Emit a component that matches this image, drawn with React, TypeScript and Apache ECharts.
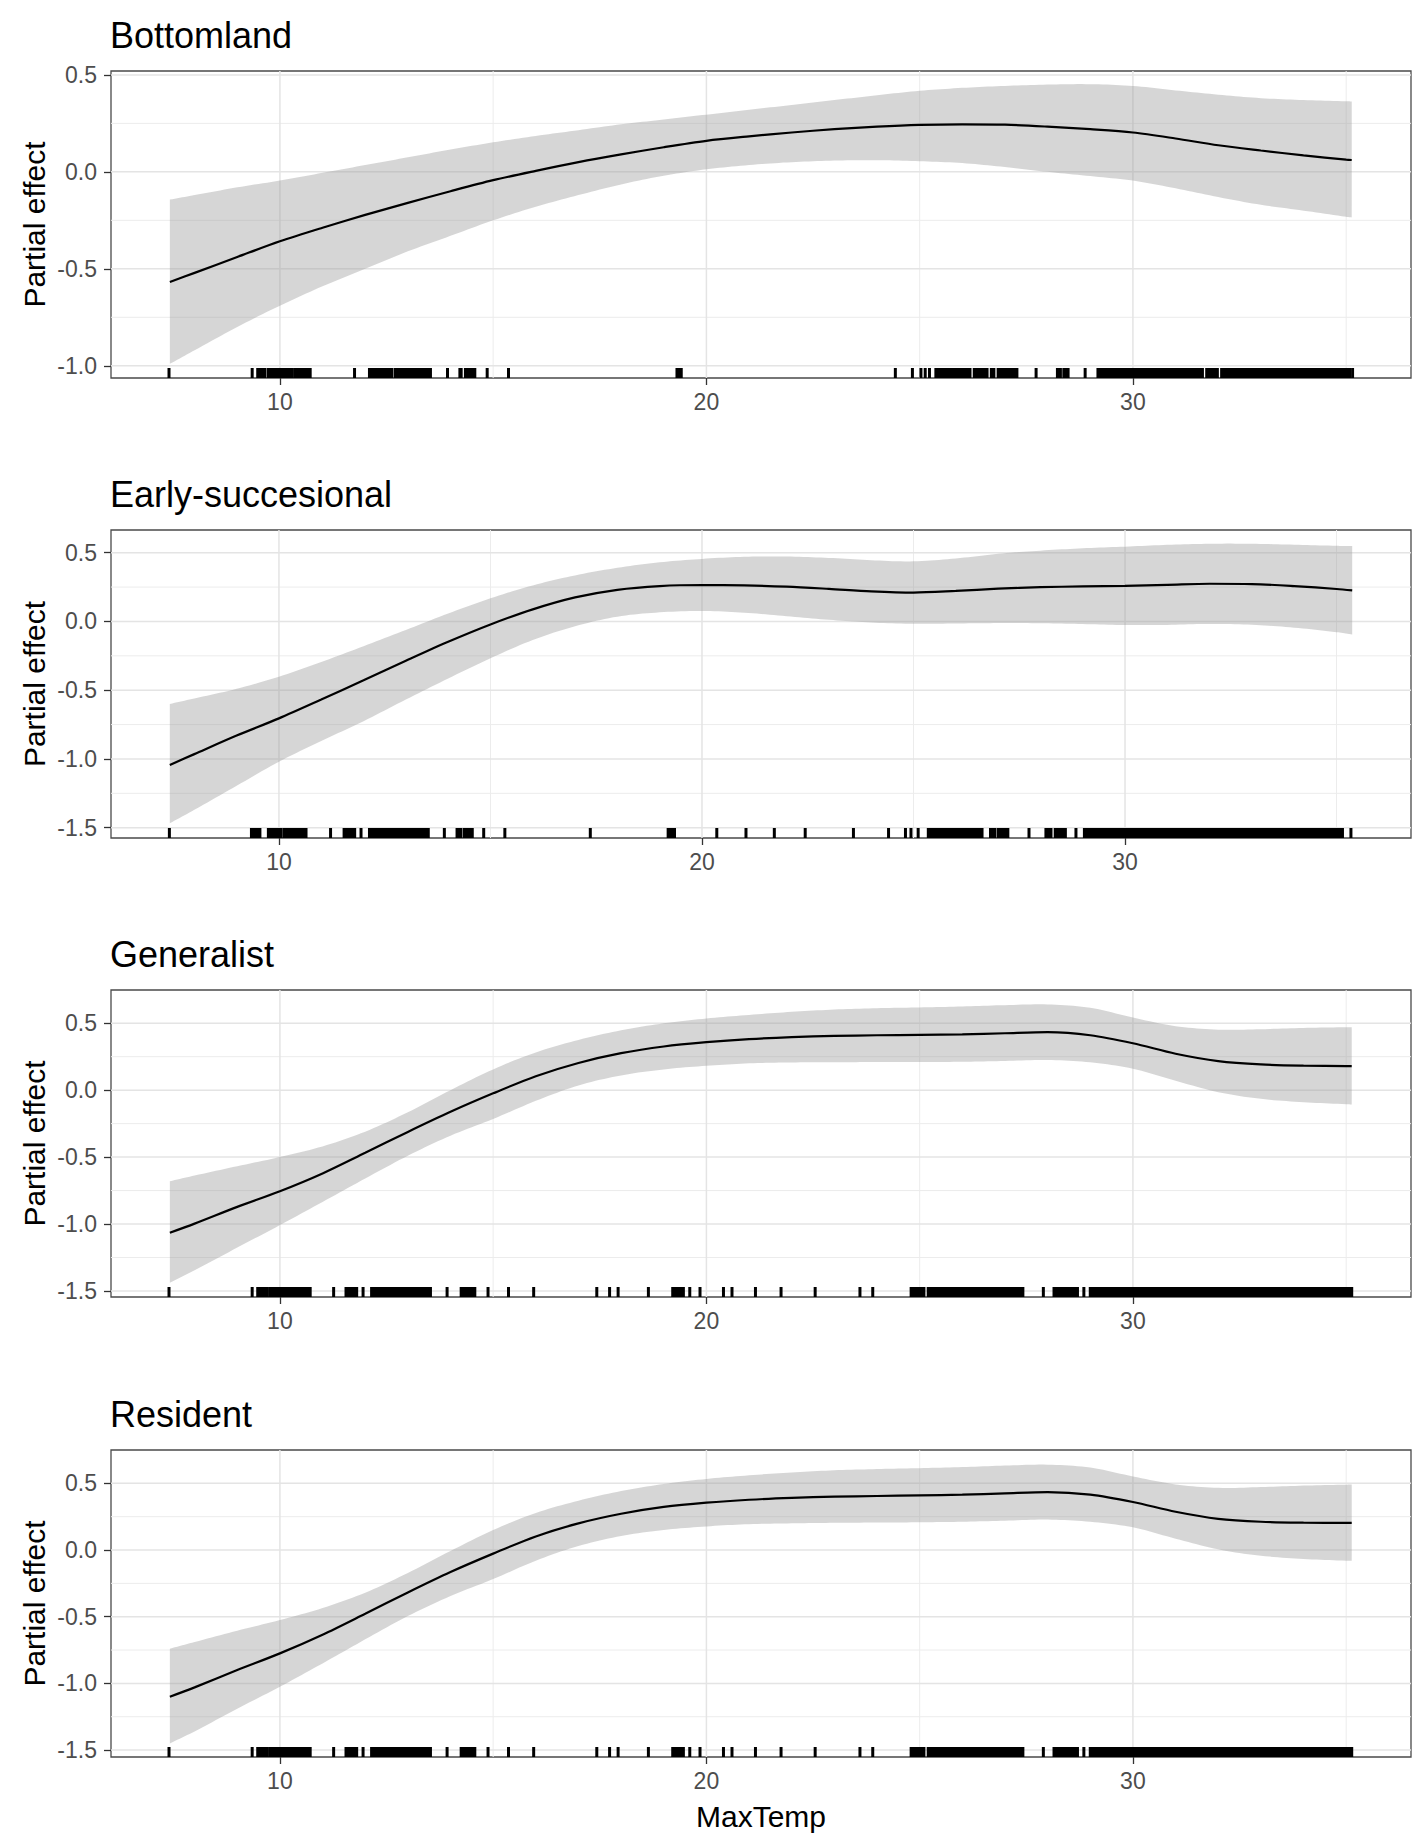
import React, { useEffect, useRef } from 'react';
import * as echarts from 'echarts';

// ---------- data ----------
const titles = ['Bottomland', 'Early-succesional', 'Generalist', 'Resident'];
const xAxisTitle = 'MaxTemp';
const yAxisTitle = 'Partial effect';

const xTicks = [10, 20, 30];
const xMinorTicks = [15, 25, 35];
const yTicksP1 = [-1, -0.5, 0, 0.5];
const yMinorP1 = [-0.75, -0.25, 0.25];
const yTicksP234 = [-1.5, -1, -0.5, 0, 0.5];
const yMinorP234 = [-1.25, -0.75, -0.25, 0.25];

// axis limits (data units)
const xLimA = [6.04, 36.52];
const xLimB = [6.03, 36.76];
const yLim1 = [-1.063, 0.52];
const yLim2 = [-1.575, 0.665];
const yLim3 = [-1.545, 0.748];
const yLim4 = [-1.552, 0.75];

// Bottomland
const x1 = [7.42, 8, 9, 10, 11, 12, 13, 14, 15, 16, 17, 18, 19, 20, 21, 22, 23, 24, 25, 26, 27, 28, 29, 30, 31, 32, 33, 34, 35, 35.13];
const fit1 = [-0.568, -0.521, -0.439, -0.358, -0.288, -0.222, -0.16, -0.1, -0.043, 0.005, 0.05, 0.09, 0.127, 0.16, 0.183, 0.203, 0.22, 0.233, 0.242, 0.245, 0.243, 0.233, 0.22, 0.203, 0.172, 0.137, 0.11, 0.085, 0.063, 0.061];
const upper1 = [-0.143, -0.12, -0.08, -0.045, -0.005, 0.035, 0.075, 0.115, 0.152, 0.185, 0.215, 0.245, 0.27, 0.295, 0.32, 0.345, 0.37, 0.395, 0.418, 0.433, 0.443, 0.45, 0.452, 0.443, 0.42, 0.398, 0.38, 0.37, 0.364, 0.363];
const lower1 = [-0.99, -0.92, -0.8, -0.69, -0.59, -0.5, -0.41, -0.33, -0.25, -0.18, -0.12, -0.065, -0.02, 0.013, 0.035, 0.05, 0.058, 0.06, 0.055, 0.045, 0.025, 0.0, -0.022, -0.045, -0.085, -0.13, -0.17, -0.2, -0.232, -0.235];
const rug1 = [
  [7.4, 7.4], [9.35, 9.35], [9.48, 9.64], [9.72, 10.09], [10.15, 10.29], [10.35, 10.49], [10.55, 10.71],
  [11.75, 11.75], [12.1, 12.62], [12.7, 13.53], [13.93, 13.93], [14.22, 14.25], [14.35, 14.57],
  [14.86, 14.86], [15.36, 15.36], [19.31, 19.41], [24.43, 24.43], [24.83, 24.83], [25.03, 25.03],
  [25.13, 25.13], [25.23, 25.23], [25.38, 26.18], [26.28, 26.58], [26.68, 26.74], [26.84, 27.28],
  [27.73, 27.73], [28.23, 28.3], [28.38, 28.48], [28.88, 28.88], [29.18, 31.63], [31.73, 31.98],
  [32.08, 35.08], [35.15, 35.15],
];

// Early-succesional
const x2 = [7.42, 8, 9, 10, 11, 12, 13, 14, 15, 16, 17, 18, 19, 20, 21, 22, 23, 24, 25, 26, 27, 28, 29, 30, 31, 32, 33, 34, 35, 35.37];
const fit2 = [-1.044, -0.965, -0.83, -0.705, -0.568, -0.428, -0.286, -0.148, -0.022, 0.088, 0.175, 0.23, 0.257, 0.265, 0.262, 0.253, 0.237, 0.219, 0.21, 0.222, 0.238, 0.249, 0.255, 0.259, 0.266, 0.274, 0.272, 0.257, 0.236, 0.226];
const upper2 = [-0.6, -0.56, -0.49, -0.402, -0.295, -0.18, -0.062, 0.058, 0.168, 0.262, 0.335, 0.39, 0.43, 0.455, 0.47, 0.472, 0.462, 0.445, 0.437, 0.458, 0.492, 0.515, 0.532, 0.544, 0.557, 0.565, 0.565, 0.558, 0.55, 0.548];
const lower2 = [-1.468, -1.37, -1.195, -1.02, -0.87, -0.725, -0.568, -0.415, -0.268, -0.135, -0.035, 0.035, 0.066, 0.076, 0.064, 0.038, 0.012, -0.008, -0.017, -0.015, -0.012, -0.013, -0.019, -0.026, -0.025, -0.018, -0.024, -0.045, -0.078, -0.095];
const rug2 = [
  [7.41, 7.41], [9.35, 9.55], [9.75, 10.05], [10.12, 10.3], [10.36, 10.64], [11.22, 11.22],
  [11.54, 11.79], [11.94, 11.94], [12.14, 13.53], [13.91, 13.91], [14.21, 14.3], [14.38, 14.57],
  [14.84, 14.84], [15.34, 15.34], [17.36, 17.36], [19.2, 19.35], [20.35, 20.35], [21.04, 21.04],
  [21.71, 21.71], [22.44, 22.44], [23.58, 23.58], [24.41, 24.41], [24.81, 24.81], [24.94, 24.94],
  [25.11, 25.11], [25.35, 26.62], [26.82, 26.92], [27.0, 27.23], [27.73, 27.73], [28.13, 28.25],
  [28.35, 28.59], [28.84, 28.84], [29.04, 35.14], [35.34, 35.34],
];

// Generalist
const x3 = [7.42, 8, 9, 10, 11, 12, 13, 14, 15, 16, 17, 18, 19, 20, 21, 22, 23, 24, 25, 26, 27, 28, 29, 30, 31, 32, 33, 34, 35, 35.13];
const fit3 = [-1.065, -0.997, -0.872, -0.755, -0.622, -0.468, -0.312, -0.162, -0.024, 0.104, 0.203, 0.276, 0.326, 0.358, 0.381, 0.396, 0.405, 0.41, 0.413, 0.416, 0.425, 0.433, 0.41, 0.35, 0.272, 0.217, 0.192, 0.183, 0.18, 0.18];
const upper3 = [-0.68, -0.638, -0.568, -0.5, -0.42, -0.31, -0.165, 0.0, 0.155, 0.282, 0.375, 0.447, 0.499, 0.535, 0.562, 0.585, 0.602, 0.612, 0.618, 0.625, 0.635, 0.64, 0.615, 0.542, 0.478, 0.452, 0.455, 0.465, 0.47, 0.47];
const lower3 = [-1.438, -1.345, -1.176, -1.008, -0.835, -0.66, -0.49, -0.34, -0.215, -0.08, 0.035, 0.11, 0.155, 0.182, 0.2, 0.207, 0.208, 0.21, 0.21, 0.212, 0.218, 0.225, 0.208, 0.16, 0.07, -0.015, -0.065, -0.09, -0.105, -0.107];
const rug3 = [
  [7.4, 7.4], [9.35, 9.35], [9.48, 9.7], [9.76, 10.71], [11.26, 11.26], [11.55, 11.8], [11.95, 11.95],
  [12.15, 13.53], [13.92, 13.92], [14.25, 14.57], [14.88, 14.88], [15.36, 15.36], [15.95, 15.95],
  [17.43, 17.43], [17.73, 17.73], [17.93, 17.93], [18.64, 18.64], [19.21, 19.46], [19.61, 19.61],
  [19.85, 19.85], [20.4, 20.4], [20.6, 20.6], [21.15, 21.15], [21.75, 21.75], [22.55, 22.55],
  [23.6, 23.6], [23.9, 23.9], [24.8, 25.1], [25.2, 27.42], [27.9, 27.9], [28.15, 28.7],
  [28.85, 28.85], [29.0, 35.13],
];

// Resident
const x4 = [7.42, 8, 9, 10, 11, 12, 13, 14, 15, 16, 17, 18, 19, 20, 21, 22, 23, 24, 25, 26, 27, 28, 29, 30, 31, 32, 33, 34, 35, 35.13];
const fit4 = [-1.1, -1.03, -0.9, -0.775, -0.635, -0.478, -0.318, -0.165, -0.027, 0.102, 0.2, 0.272, 0.323, 0.355, 0.377, 0.391, 0.4, 0.405, 0.41, 0.415, 0.425, 0.434, 0.415, 0.36, 0.287, 0.234, 0.212, 0.205, 0.203, 0.203];
const upper4 = [-0.74, -0.69, -0.605, -0.525, -0.435, -0.32, -0.172, -0.007, 0.15, 0.278, 0.37, 0.442, 0.495, 0.533, 0.56, 0.582, 0.598, 0.607, 0.614, 0.622, 0.633, 0.64, 0.618, 0.552, 0.492, 0.466, 0.472, 0.483, 0.49, 0.492];
const lower4 = [-1.45, -1.36, -1.19, -1.025, -0.85, -0.67, -0.495, -0.345, -0.218, -0.08, 0.03, 0.105, 0.15, 0.177, 0.194, 0.2, 0.204, 0.206, 0.208, 0.212, 0.22, 0.228, 0.212, 0.17, 0.085, 0.005, -0.043, -0.067, -0.08, -0.08];
const rug4 = [
  [7.4, 7.4], [9.35, 9.35], [9.48, 9.7], [9.76, 10.71], [11.26, 11.26], [11.55, 11.8], [11.95, 11.95],
  [12.15, 13.53], [13.92, 13.92], [14.25, 14.57], [14.88, 14.88], [15.36, 15.36], [15.95, 15.95],
  [17.43, 17.43], [17.73, 17.73], [17.93, 17.93], [18.64, 18.64], [19.21, 19.46], [19.61, 19.61],
  [19.85, 19.85], [20.4, 20.4], [20.6, 20.6], [21.15, 21.15], [21.75, 21.75], [22.55, 22.55],
  [23.6, 23.6], [23.9, 23.9], [24.8, 25.1], [25.2, 27.42], [27.9, 27.9], [28.15, 28.7],
  [28.85, 28.85], [29.0, 35.13],
];

// ---------- layout ----------
const FONT = '"Liberation Sans", Arial, Helvetica, sans-serif';
const LEFT = 111;
const WIDTH = 1300;
const TOPS = [71, 530, 990, 1450];
const HEIGHTS = [307, 308, 307, 307];

const panels = [
  { xs: x1, fit: fit1, up: upper1, lo: lower1, rug: rug1, xr: xLimA, yr: yLim1, yMaj: yTicksP1, yMin: yMinorP1 },
  { xs: x2, fit: fit2, up: upper2, lo: lower2, rug: rug2, xr: xLimB, yr: yLim2, yMaj: yTicksP234, yMin: yMinorP234 },
  { xs: x3, fit: fit3, up: upper3, lo: lower3, rug: rug3, xr: xLimA, yr: yLim3, yMaj: yTicksP234, yMin: yMinorP234 },
  { xs: x4, fit: fit4, up: upper4, lo: lower4, rug: rug4, xr: xLimA, yr: yLim4, yMaj: yTicksP234, yMin: yMinorP234 },
];

// smooth a pixel polyline (x increasing) with cubic Hermite segments, for drawing only
function smoothPixels(pts: number[][], steps = 10): number[][] {
  const n = pts.length;
  const m = pts.map((_, k) => {
    const a = pts[Math.max(0, k - 1)];
    const b = pts[Math.min(n - 1, k + 1)];
    return (b[1] - a[1]) / (b[0] - a[0]);
  });
  const out: number[][] = [];
  for (let k = 0; k < n - 1; k++) {
    const [x0, y0] = pts[k];
    const [x1, y1] = pts[k + 1];
    const h = x1 - x0;
    for (let s = 0; s < steps; s++) {
      const t = s / steps;
      const t2 = t * t;
      const t3 = t2 * t;
      const y = (2 * t3 - 3 * t2 + 1) * y0 + (t3 - 2 * t2 + t) * h * m[k] + (-2 * t3 + 3 * t2) * y1 + (t3 - t2) * h * m[k + 1];
      out.push([x0 + t * h, y]);
    }
  }
  out.push(pts[n - 1]);
  return out;
}

function buildOption() {
  const grid: any[] = [];
  const xAxis: any[] = [];
  const yAxis: any[] = [];
  const series: any[] = [];
  const graphic: any[] = [];

  panels.forEach((p, i) => {
    grid.push({
      left: LEFT, top: TOPS[i], width: WIDTH, height: HEIGHTS[i],
      show: true, borderColor: '#4a4a4a', borderWidth: 1.3, backgroundColor: 'transparent',
    });
    xAxis.push({
      type: 'value', gridIndex: i, min: p.xr[0], max: p.xr[1], position: 'bottom',
      axisLine: { show: false, onZero: false },
      axisTick: { show: true, length: 7, lineStyle: { color: '#333', width: 1.3 }, customValues: xTicks },
      axisLabel: {
        customValues: xTicks, color: '#4d4d4d', fontSize: 23, fontFamily: FONT, margin: 12,
        formatter: (v: number) => String(v),
      },
      splitLine: { show: false },
    });
    yAxis.push({
      type: 'value', gridIndex: i, min: p.yr[0], max: p.yr[1], position: 'left',
      axisLine: { show: false, onZero: false },
      axisTick: { show: true, length: 7, lineStyle: { color: '#333', width: 1.3 }, customValues: p.yMaj },
      axisLabel: {
        customValues: p.yMaj, color: '#4d4d4d', fontSize: 23, fontFamily: FONT, margin: 14,
        formatter: (v: number) => v.toFixed(1),
      },
      splitLine: { show: false },
    });

    // grid lines
    const gl: number[][] = [];
    xMinorTicks.forEach((v) => gl.push([v, 0, 0]));
    p.yMin.forEach((v) => gl.push([v, 1, 0]));
    xTicks.forEach((v) => gl.push([v, 0, 1]));
    p.yMaj.forEach((v) => gl.push([v, 1, 1]));
    series.push({
      type: 'custom', xAxisIndex: i, yAxisIndex: i, z: 1, silent: true,
      data: gl,
      renderItem: (params: any, api: any) => {
        const v = api.value(0);
        const o = api.value(1);
        const major = api.value(2);
        const cs = params.coordSys;
        let shape;
        if (o === 0) {
          const x = api.coord([v, p.yr[0]])[0];
          if (x < cs.x || x > cs.x + cs.width) return null;
          shape = { x1: x, y1: cs.y, x2: x, y2: cs.y + cs.height };
        } else {
          const y = api.coord([p.xr[0], v])[1];
          if (y < cs.y || y > cs.y + cs.height) return null;
          shape = { x1: cs.x, y1: y, x2: cs.x + cs.width, y2: y };
        }
        return {
          type: 'line', shape,
          style: { stroke: major ? '#e4e4e4' : '#ececec', lineWidth: major ? 1.5 : 1 },
        };
      },
    });

    // confidence band
    series.push({
      type: 'custom', xAxisIndex: i, yAxisIndex: i, z: 2, silent: true,
      data: p.xs.map((x, k) => [x, p.lo[k], p.up[k]]),
      renderItem: (params: any, api: any) => {
        if (params.dataIndex !== 0) return null;
        const upPx = p.xs.map((x, k) => api.coord([x, p.up[k]]));
        const loPx = p.xs.map((x, k) => api.coord([x, p.lo[k]]));
        const pts = smoothPixels(upPx).concat(smoothPixels(loPx).reverse());
        return { type: 'polygon', shape: { points: pts }, style: { fill: 'rgba(153,153,153,0.4)' } };
      },
    });

    // fitted smooth
    series.push({
      type: 'line', xAxisIndex: i, yAxisIndex: i, z: 3, silent: true,
      data: p.xs.map((x, k) => [x, p.fit[k]]),
      showSymbol: false, symbol: 'none', smooth: 0.3,
      lineStyle: { color: '#000', width: 2.2 },
    });

    // rug
    series.push({
      type: 'custom', xAxisIndex: i, yAxisIndex: i, z: 4, silent: true,
      data: p.rug,
      renderItem: (params: any, api: any) => {
        const a = api.value(0);
        const b = api.value(1);
        const p1 = api.coord([a, p.yr[0]]);
        const p2 = api.coord([b, p.yr[0]]);
        return {
          type: 'rect',
          shape: { x: p1[0] - 1.5, y: p1[1] - 10, width: p2[0] - p1[0] + 3, height: 10 },
          style: { fill: '#000' },
        };
      },
    });

    graphic.push({
      type: 'text', x: LEFT - 1, y: TOPS[i] - 36,
      style: { text: titles[i], fontSize: 36, fontFamily: FONT, fill: '#000', align: 'left', verticalAlign: 'middle' },
    });
    graphic.push({
      type: 'text', x: 34, y: TOPS[i] + HEIGHTS[i] / 2, rotation: Math.PI / 2,
      style: { text: yAxisTitle, fontSize: 30, fontFamily: FONT, fill: '#000', align: 'center', verticalAlign: 'middle' },
    });
  });

  graphic.push({
    type: 'text', x: LEFT + WIDTH / 2, y: 1816,
    style: { text: xAxisTitle, fontSize: 30, fontFamily: FONT, fill: '#000', align: 'center', verticalAlign: 'middle' },
  });

  return {
    animation: false,
    backgroundColor: '#ffffff',
    grid, xAxis, yAxis, series, graphic,
  };
}

export default function App() {
  const ref = useRef<HTMLDivElement>(null);
  useEffect(() => {
    document.body.style.margin = '0';
    const chart = echarts.init(ref.current as HTMLDivElement, null, { renderer: 'svg' });
    chart.setOption(buildOption() as any);
    return () => chart.dispose();
  }, []);
  return <div ref={ref} style={{ width: 1418, height: 1843, background: '#fff' }} />;
}
